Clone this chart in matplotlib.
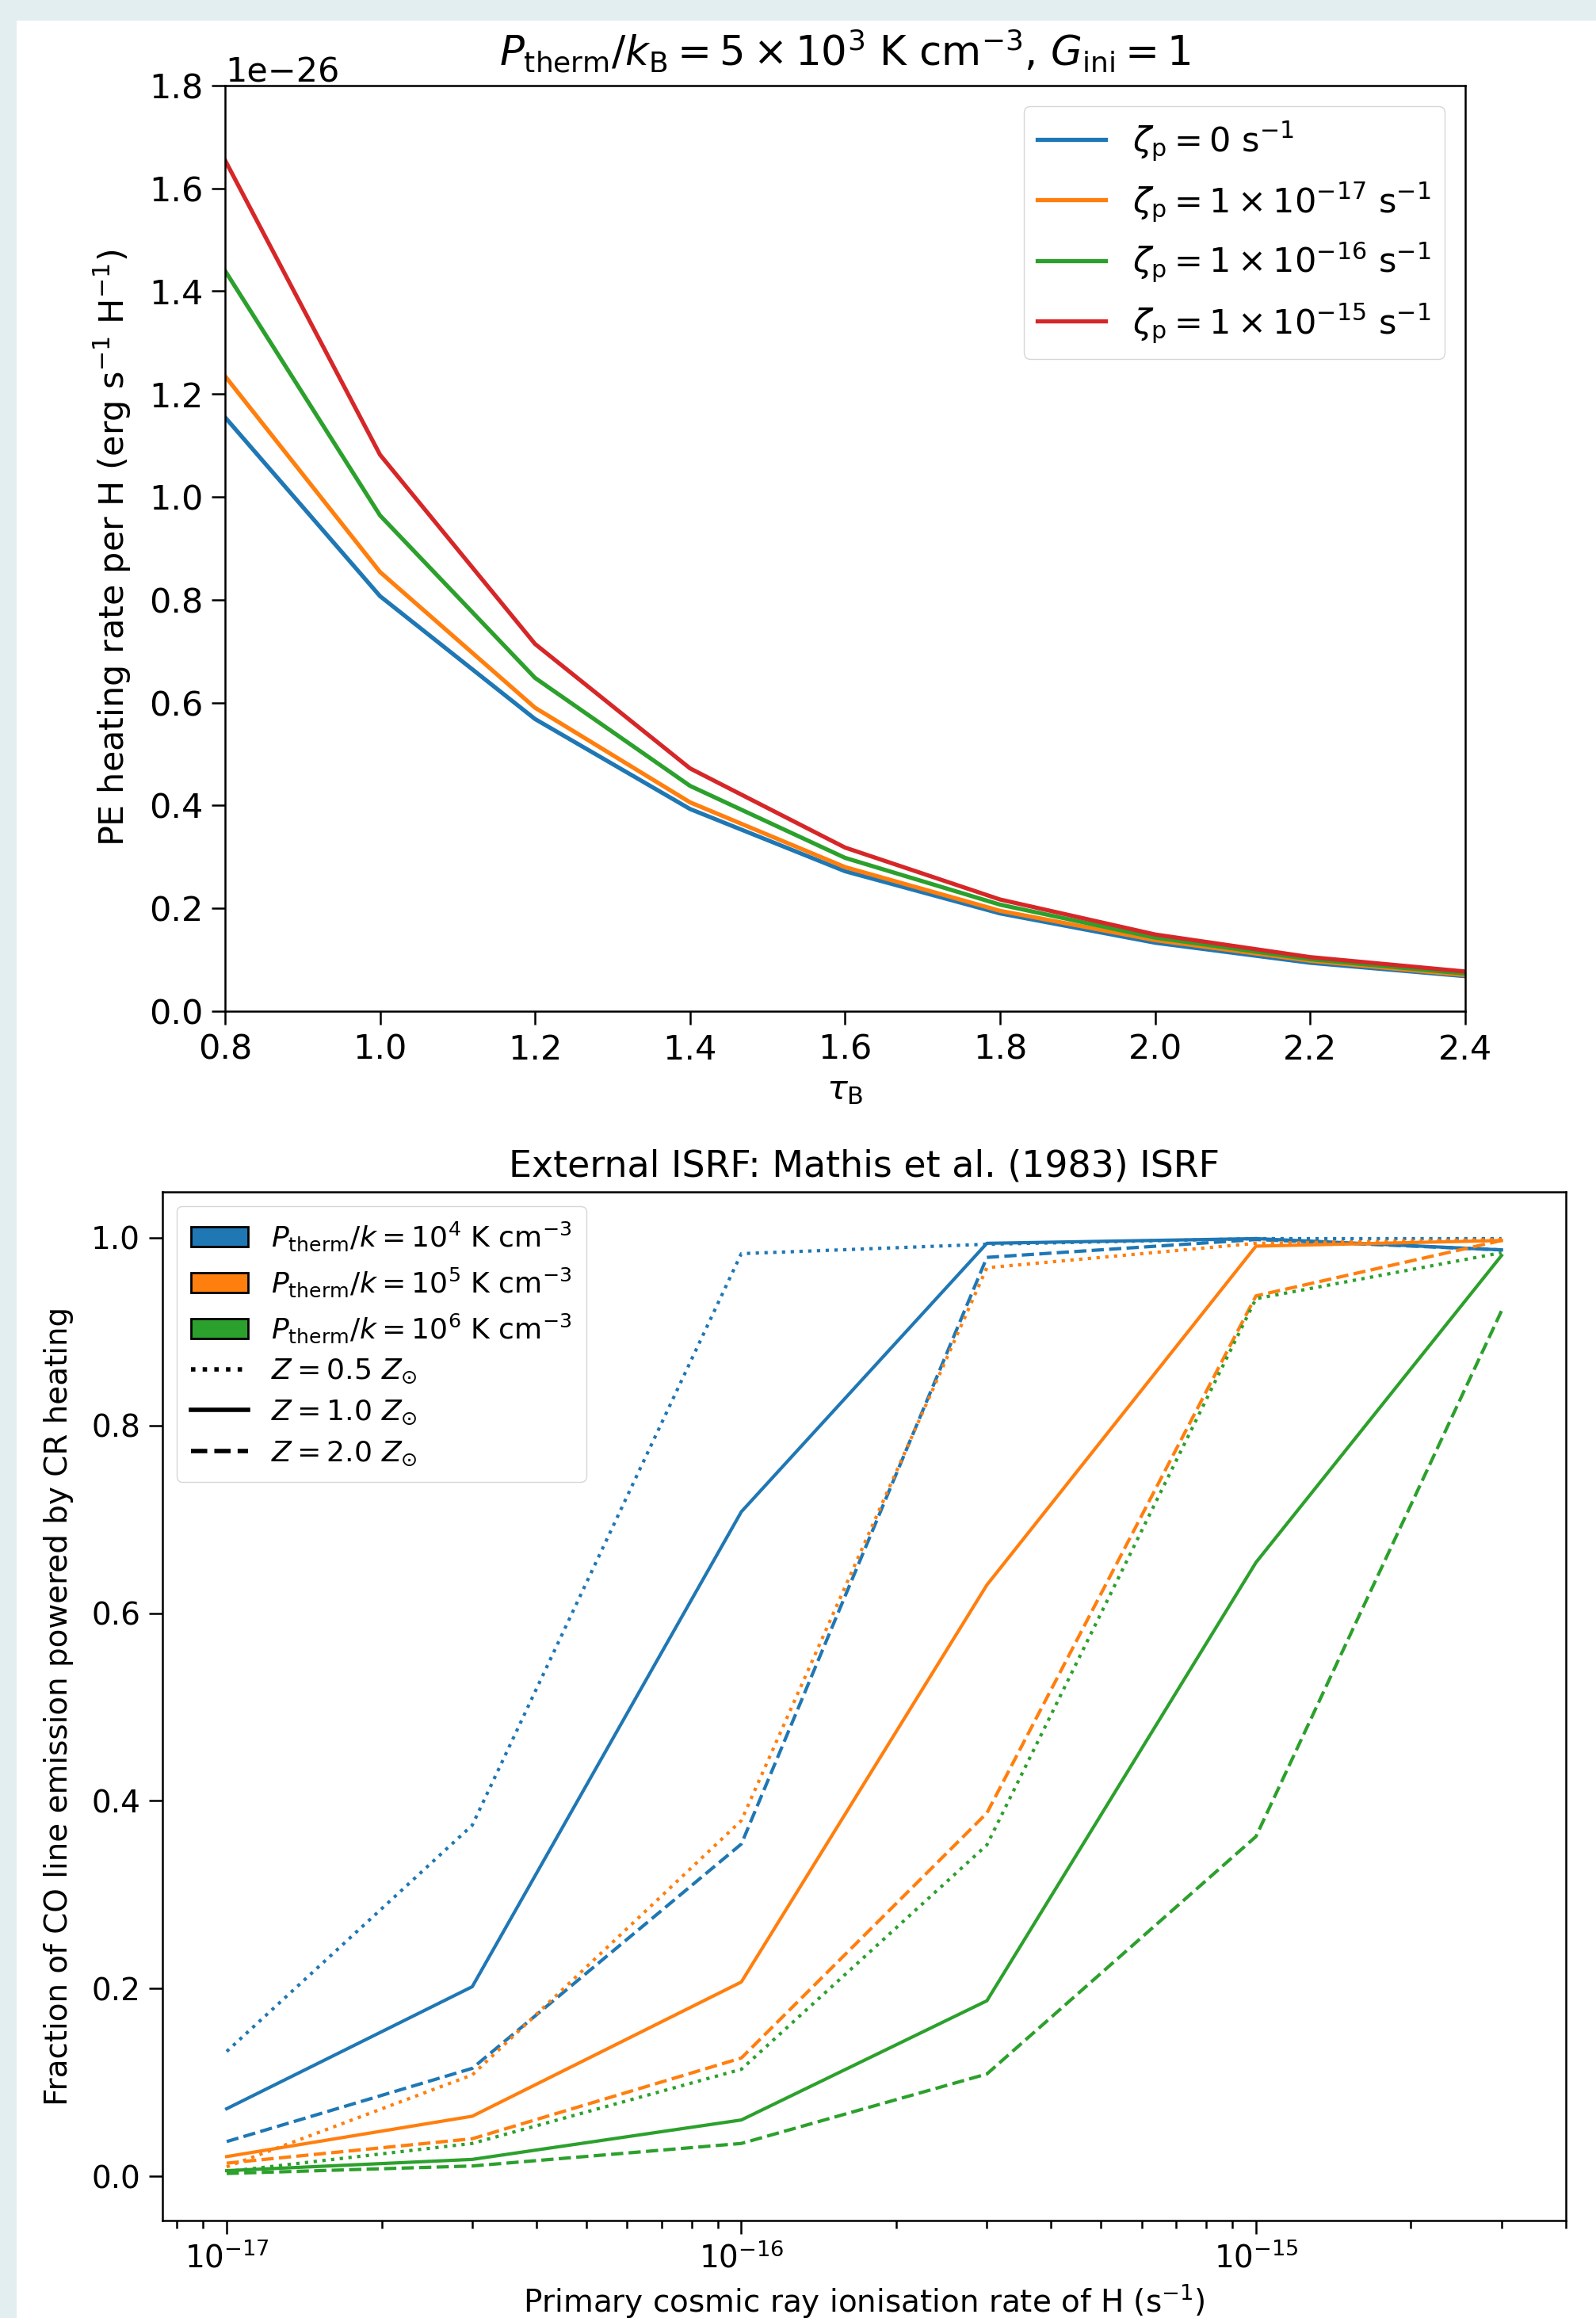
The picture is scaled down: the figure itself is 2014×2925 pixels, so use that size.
import numpy as np
import matplotlib
matplotlib.use('Agg')
import matplotlib.pyplot as plt
from matplotlib.patches import Patch, Rectangle
from matplotlib.lines import Line2D

# top panel: PE heating rate vs tau_B
aTau = [0.8, 1.0, 1.2, 1.4, 1.6, 1.8, 2.0, 2.2, 2.4]
aZeta_label = [r'$\zeta_{\rm p} = 0$ s$^{-1}$',
               r'$\zeta_{\rm p} = 1\times10^{-17}$ s$^{-1}$',
               r'$\zeta_{\rm p} = 1\times10^{-16}$ s$^{-1}$',
               r'$\zeta_{\rm p} = 1\times10^{-15}$ s$^{-1}$']
aHeat_z0 = [1.155, 0.807, 0.568, 0.393, 0.272, 0.190, 0.133, 0.094, 0.068]
aHeat_z17 = [1.235, 0.854, 0.590, 0.406, 0.280, 0.195, 0.138, 0.098, 0.070]
aHeat_z16 = [1.440, 0.964, 0.648, 0.438, 0.298, 0.207, 0.143, 0.101, 0.073]
aHeat_z15 = [1.655, 1.082, 0.714, 0.472, 0.318, 0.217, 0.149, 0.105, 0.077]

# bottom panel: CR fraction vs zeta
aZeta = [1e-17, 3e-17, 1e-16, 3e-16, 1e-15, 3e-15]
aZeta_tick = [1e-17, 1e-16, 1e-15]
aP_label = [r'$P_{\rm therm}/k = 10^4$ K cm$^{-3}$',
            r'$P_{\rm therm}/k = 10^5$ K cm$^{-3}$',
            r'$P_{\rm therm}/k = 10^6$ K cm$^{-3}$']
aZ_label = [r'$Z = 0.5\ Z_{\odot}$', r'$Z = 1.0\ Z_{\odot}$', r'$Z = 2.0\ Z_{\odot}$']
# rows: Z = 0.5, 1.0, 2.0
aFrac_p4 = [[0.133, 0.374, 0.983, 0.993, 0.999, 0.999],
            [0.072, 0.202, 0.708, 0.994, 0.999, 0.987],
            [0.037, 0.115, 0.354, 0.979, 0.998, 0.987]]
aFrac_p5 = [[0.010, 0.108, 0.379, 0.968, 0.994, 0.998],
            [0.021, 0.064, 0.207, 0.630, 0.991, 0.997],
            [0.014, 0.040, 0.126, 0.387, 0.938, 0.997]]
aFrac_p6 = [[0.005, 0.035, 0.114, 0.353, 0.935, 0.984],
            [0.006, 0.018, 0.060, 0.187, 0.654, 0.981],
            [0.003, 0.011, 0.035, 0.109, 0.362, 0.922]]

aColor = ['#1f77b4', '#ff7f0e', '#2ca02c', '#d62728']
aStyle = [':', '-', '--']

fig = plt.figure(figsize=(20.15, 29.25), dpi=100)
fig.patch.set_facecolor('#e3eef0')
fig.patches.append(Rectangle((21/2015, 0), 1, 1 - 26/2925, transform=fig.transFigure,
                             facecolor='white', edgecolor='none', zorder=-1))

# ---- top
ax1 = fig.add_axes([0.1409, 0.5638, 0.7767, 0.3993])
for aH, sLab, sC in zip([aHeat_z0, aHeat_z17, aHeat_z16, aHeat_z15], aZeta_label, aColor):
    ax1.plot(aTau, np.array(aH) * 1e-26, color=sC, lw=3.8, label=sLab)
ax1.set_xlim(0.8, 2.4)
ax1.set_ylim(0, 1.8e-26)
ax1.set_xticks(aTau)
ax1.tick_params(labelsize=31, length=12, width=1.8, pad=8)
ax1.yaxis.get_offset_text().set_fontsize(31)
for s in ax1.spines.values():
    s.set_linewidth(1.8)
ax1.set_xlabel(r'$\tau_{\rm B}$', fontsize=31, labelpad=6)
ax1.set_ylabel(r'PE heating rate per H (erg s$^{-1}$ H$^{-1}$)', fontsize=31, labelpad=14)
ax1.set_title(r'$P_{\rm therm}/k_{\rm B} = 5\times10^{3}$ K cm$^{-3}$, $G_{\rm ini} = 1$',
              fontsize=37, pad=18)
ax1.legend(loc='upper right', fontsize=31, handlelength=2.0, borderpad=0.4,
           labelspacing=0.5, borderaxespad=0.6)

# ---- bottom
ax2 = fig.add_axes([0.1017, 0.0421, 0.8789, 0.4438])
for aF, sC in zip([aFrac_p4, aFrac_p5, aFrac_p6], aColor):
    for aRow, sLs in zip(aF, aStyle):
        ax2.plot(aZeta, aRow, color=sC, ls=sLs, lw=3.0)
ax2.set_xscale('log')
ax2.set_xlim(7.5e-18, 4e-15)
ax2.set_ylim(-0.047, 1.049)
ax2.set_xticks(aZeta_tick)
ax2.set_yticks([0.0, 0.2, 0.4, 0.6, 0.8, 1.0])
ax2.tick_params(which='both', labelsize=28, width=1.8, pad=8)
ax2.tick_params(which='major', length=12)
ax2.tick_params(which='minor', length=7)
for s in ax2.spines.values():
    s.set_linewidth(1.8)
ax2.set_xlabel(r'Primary cosmic ray ionisation rate of H (s$^{-1}$)', fontsize=28, labelpad=8)
ax2.set_ylabel('Fraction of CO line emission powered by CR heating', fontsize=28, labelpad=16)
ax2.set_title('External ISRF: Mathis et al. (1983) ISRF', fontsize=33, pad=14)

aHandle = [Patch(facecolor=c, edgecolor='black', lw=2) for c in aColor[:3]]
aHandle += [Line2D([0], [0], color='black', ls=s, lw=4) for s in aStyle]
ax2.legend(aHandle, aP_label + aZ_label, loc='upper left', fontsize=26,
           handlelength=2.0, labelspacing=0.45, borderpad=0.5)

fig.savefig('out.png', dpi=100, facecolor=fig.get_facecolor())
